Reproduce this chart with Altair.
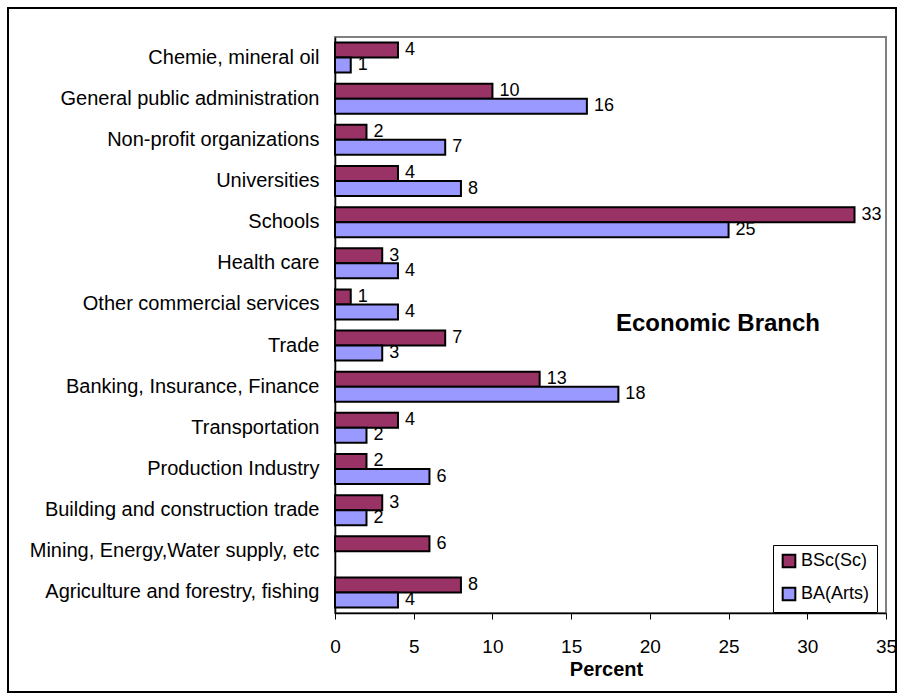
import altair as alt
import pandas as pd

categories = [
    "Chemie, mineral oil ",
    "General public administration",
    "Non-profit organizations",
    "Universities",
    "Schools",
    "Health care",
    "Other commercial services",
    "Trade ",
    "Banking, Insurance, Finance",
    "Transportation",
    "Production Industry",
    "Building and construction trade ",
    "Mining, Energy,Water supply, etc",
    "Agriculture and forestry, fishing",
]
bsc_values = [4, 10, 2, 4, 33, 3, 1, 7, 13, 4, 2, 3, 6, 8]
ba_values = [1, 16, 7, 8, 25, 4, 4, 3, 18, 2, 6, 2, None, 4]
series = ["BSc(Sc)", "BA(Arts)"]
colors = ["#993366", "#9999FF"]
x_ticks = [0, 5, 10, 15, 20, 25, 30, 35]
annotation = ["Economic Branch"]

FONT = "Liberation Sans"

rows = []
for c, a, b in zip(categories, bsc_values, ba_values):
    rows.append({"cat": c, "series": series[0], "value": a})
    if b is not None:
        rows.append({"cat": c, "series": series[1], "value": b})
df = pd.DataFrame(rows)

y_enc = alt.Y(
    "cat:N",
    sort=categories,
    scale=alt.Scale(paddingInner=0.27, paddingOuter=0.135),
    axis=alt.Axis(
        title=None,
        labelFont=FONT,
        labelFontSize=20,
        labelColor="black",
        ticks=False,
        domainColor="black",
        domainWidth=1.5,
        labelPadding=16,
        labelLimit=400,
    ),
)
yoff_enc = alt.YOffset("series:N", sort=series, scale=alt.Scale(paddingInner=0, paddingOuter=0))

x_enc = alt.X(
    "value:Q",
    scale=alt.Scale(domain=[0, 35], nice=False),
    axis=alt.Axis(
        values=x_ticks,
        grid=False,
        tickSize=6,
        tickColor="black",
        domainColor="black",
        domainWidth=1.5,
        labelFont=FONT,
        labelFontSize=19,
        labelColor="black",
        labelPadding=18,
        labelFlush=False,
        title="Percent",
        titleFont=FONT,
        titleFontSize=20,
        titleFontWeight="bold",
        titleColor="black",
        titleX=271,
        titleY=46,
    ),
)

base = alt.Chart(df).encode(y=y_enc, yOffset=yoff_enc)

bars = base.mark_bar(stroke="black", strokeWidth=2).encode(
    x=x_enc,
    color=alt.Color(
        "series:N",
        scale=alt.Scale(domain=series, range=colors),
        legend=alt.Legend(
            title=None,
            orient="none",
            legendX=438,
            legendY=508,
            fillColor="white",
            strokeColor="black",
            padding=7,
            rowPadding=11,
            symbolType="square",
            symbolSize=160,
            symbolStrokeColor="black",
            symbolStrokeWidth=2,
            symbolOpacity=1,
            labelFont=FONT,
            labelFontSize=18,
            labelColor="black",
            labelOffset=3,
        ),
    ),
)

labels = base.mark_text(align="left", baseline="middle", dx=7, font=FONT, fontSize=18, color="black").encode(
    x=alt.X("value:Q"),
    text=alt.Text("value:Q"),
)

note = alt.Chart(pd.DataFrame({"t": annotation})).mark_text(
    font=FONT, fontSize=24, fontWeight="bold", color="black", align="center", baseline="middle"
).encode(text="t:N", x=alt.value(383), y=alt.value(287))

border = alt.Chart(pd.DataFrame({"a": [0]})).mark_rect(
    fillOpacity=0, stroke="black", strokeWidth=2, clip=False
).encode(x=alt.value(-327), x2=alt.value(561), y=alt.value(-29), y2=alt.value(655))

chart = (
    alt.layer(bars, labels, note, border)
    .properties(
        width=551,
        height=576,
        autosize=alt.AutoSizeParams(type="none"),
        padding={"left": 335, "top": 37, "right": 18, "bottom": 87},
        background="white",
    )
    .configure_view(stroke="#808080", strokeWidth=2)
)

chart.save("out.html", embed_options={"renderer": "svg", "actions": False})
